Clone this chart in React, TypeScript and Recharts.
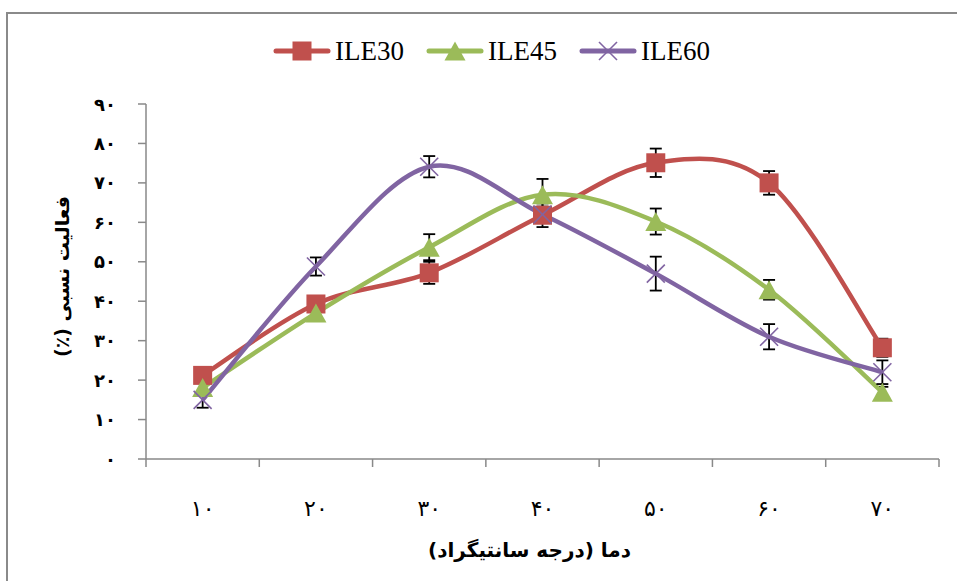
import React from 'react';
import { ComposedChart, Line, XAxis, YAxis, ErrorBar, Legend, Label } from 'recharts';

// ---- data ----
const temps = [10, 20, 30, 40, 50, 60, 70];
const tempLabels = ['۱۰', '۲۰', '۳۰', '۴۰', '۵۰', '۶۰', '۷۰'];
const ile30 = [21.2, 39.3, 47.2, 61.8, 75.1, 70.0, 28.2];
const ile30Err = [1.5, 1.5, 2.8, 3.0, 3.6, 3.0, 2.3];
const ile45 = [18.1, 37.0, 53.7, 67.0, 60.2, 42.9, 16.9];
const ile45Err = [1.5, 1.5, 3.3, 4.0, 3.3, 2.5, 1.4];
const ile60 = [15.0, 48.8, 74.1, 62.0, 47.0, 31.0, 22.0];
const ile60Err = [2.0, 2.3, 2.7, 2.0, 4.3, 3.2, 3.0];
const yTicks = [0, 10, 20, 30, 40, 50, 60, 70, 80, 90];
const yTickLabels = ['۰', '۱۰', '۲۰', '۳۰', '۴۰', '۵۰', '۶۰', '۷۰', '۸۰', '۹۰'];
const seriesNames = ['ILE30', 'ILE45', 'ILE60'];
const seriesKeys = ['ile30', 'ile45', 'ile60'];
const errKeys = ['e30', 'e45', 'e60'];
const seriesColors = ['#C0504D', '#9BBB59', '#8064A2'];
const xTitle = 'دما (درجه سانتیگراد)';
const yTitle = 'فعالیت نسبی (٪)';

const rows = temps.map((t, i) => ({
  t,
  ile30: ile30[i],
  e30: ile30Err[i],
  ile45: ile45[i],
  e45: ile45Err[i],
  ile60: ile60[i],
  e60: ile60Err[i],
}));

const halfStep = (temps[1] - temps[0]) / 2;
const xBounds = [...temps.map((t) => t - halfStep), temps[temps.length - 1] + halfStep];

// ---- layout constants ----
const W = 957;
const H = 581;
const PLOT_LEFT = 146;
const PLOT_RIGHT = 939;
const PLOT_TOP = 104;
const PLOT_BOTTOM = 459;
const HALF_BAND = (PLOT_RIGHT - PLOT_LEFT) / temps.length / 2;
const AXIS_COLOR = '#898989';
const PERSIAN_FONT = '"DejaVu Sans", sans-serif';

// Excel-like smoothed curve (Catmull-Rom / cardinal, tension 0)
function excelCurve(context: any) {
  let pts: number[][] = [];
  return {
    areaStart() {},
    areaEnd() {},
    lineStart() {
      pts = [];
    },
    lineEnd() {
      if (!pts.length) return;
      context.moveTo(pts[0][0], pts[0][1]);
      for (let i = 0; i < pts.length - 1; i++) {
        const p0 = pts[i - 1] || pts[i];
        const p1 = pts[i];
        const p2 = pts[i + 1];
        const p3 = pts[i + 2] || p2;
        context.bezierCurveTo(
          p1[0] + (p2[0] - p0[0]) / 6,
          p1[1] + (p2[1] - p0[1]) / 6,
          p2[0] - (p3[0] - p1[0]) / 6,
          p2[1] - (p3[1] - p1[1]) / 6,
          p2[0],
          p2[1]
        );
      }
    },
    point(x: number, y: number) {
      pts.push([+x, +y]);
    },
  };
}

function Marker({ kind, cx, cy }: { kind: number; cx: number; cy: number }) {
  const color = seriesColors[kind];
  if (cx == null || cy == null || isNaN(cx) || isNaN(cy)) return <g />;
  if (kind === 0) {
    const s = 19;
    return <rect x={cx - s / 2} y={cy - s / 2} width={s} height={s} fill={color} />;
  }
  if (kind === 1) {
    const w = 21;
    const h = 19;
    return (
      <polygon
        points={`${cx},${cy - h / 2} ${cx + w / 2},${cy + h / 2} ${cx - w / 2},${cy + h / 2}`}
        fill={color}
      />
    );
  }
  const r = 9;
  return (
    <g stroke={color} strokeWidth={1.6}>
      <line x1={cx - r} y1={cy - r} x2={cx + r} y2={cy + r} />
      <line x1={cx - r} y1={cy + r} x2={cx + r} y2={cy - r} />
    </g>
  );
}

const renderLegend = () => (
  <div
    style={{
      display: 'flex',
      justifyContent: 'center',
      alignItems: 'center',
      paddingLeft: 26,
      height: 30,
    }}
  >
    {seriesNames.map((n, i) => (
      <div
        key={n}
        style={{ display: 'flex', alignItems: 'center', marginRight: i < seriesNames.length - 1 ? 22 : 0 }}
      >
        <svg width={58} height={26} style={{ display: 'block' }}>
          <line x1={3} y1={13} x2={55} y2={13} stroke={seriesColors[i]} strokeWidth={5} strokeLinecap="round" />
          <Marker kind={i} cx={29} cy={13} />
        </svg>
        <span
          style={{
            fontFamily: '"Liberation Serif", "Times New Roman", serif',
            fontSize: 27,
            color: '#000',
            marginLeft: 4,
            lineHeight: '30px',
          }}
        >
          {n}
        </span>
      </div>
    ))}
  </div>
);

const XTick = (props: any) => {
  const { x, y, index } = props;
  if (index >= tempLabels.length) return <g />;
  return (
    <text
      x={x + HALF_BAND}
      y={y + 39}
      textAnchor="middle"
      dominantBaseline="central"
      fontFamily={PERSIAN_FONT}
      fontSize={22}
      fill="#000"
    >
      {tempLabels[index]}
    </text>
  );
};

const YTick = (props: any) => {
  const { y, index } = props;
  return (
    <text
      x={116}
      y={y}
      textAnchor="end"
      dominantBaseline="central"
      fontFamily={PERSIAN_FONT}
      fontWeight="bold"
      fontSize={18}
      fill="#000"
    >
      {yTickLabels[index]}
    </text>
  );
};

const XTitle = (props: any) => {
  const vb = props.viewBox || {};
  return (
    <text
      x={vb.x + vb.width / 2 - 13}
      y={550}
      textAnchor="middle"
      dominantBaseline="central"
      direction="rtl"
      fontFamily={PERSIAN_FONT}
      fontWeight="bold"
      fontSize={20}
      fill="#000"
    >
      {xTitle}
    </text>
  );
};

const YTitle = (props: any) => {
  const vb = props.viewBox || {};
  const cy = vb.y + vb.height / 2 - 5;
  return (
    <text
      x={62}
      y={cy}
      transform={`rotate(-90, 62, ${cy})`}
      textAnchor="middle"
      dominantBaseline="central"
      direction="rtl"
      fontFamily={PERSIAN_FONT}
      fontWeight="bold"
      fontSize={19}
      fill="#000"
    >
      {yTitle}
    </text>
  );
};

export default function App() {
  return (
    <div style={{ position: 'absolute', left: 0, top: 0, width: W, height: H, background: '#fff', overflow: 'hidden' }}>
      <div
        style={{
          position: 'absolute',
          left: 6,
          top: 12,
          width: W,
          height: H,
          borderLeft: '2px solid #8a8a8a',
          borderTop: '2px solid #8a8a8a',
        }}
      />
      <div style={{ position: 'absolute', left: 0, top: 0 }}>
        <ComposedChart
          width={W}
          height={H}
          data={rows}
          margin={{ top: PLOT_TOP, right: W - PLOT_RIGHT, bottom: 0, left: 0 }}
        >
          <Legend
            content={renderLegend}
            layout="horizontal"
            verticalAlign="middle"
            align="center"
            wrapperStyle={{ top: 36, left: 0, width: W }}
          />
          <XAxis
            dataKey="t"
            type="number"
            domain={[xBounds[0], xBounds[xBounds.length - 1]]}
            ticks={xBounds}
            interval={0}
            height={H - PLOT_BOTTOM}
            tickSize={8}
            tick={<XTick />}
            axisLine={{ stroke: AXIS_COLOR, strokeWidth: 1.5 }}
            tickLine={{ stroke: AXIS_COLOR, strokeWidth: 1.5 }}
          >
            <Label content={<XTitle />} />
          </XAxis>
          <YAxis
            type="number"
            domain={[0, 90]}
            ticks={yTicks}
            interval={0}
            width={PLOT_LEFT}
            tickSize={8}
            tick={<YTick />}
            axisLine={{ stroke: AXIS_COLOR, strokeWidth: 1.5 }}
            tickLine={{ stroke: AXIS_COLOR, strokeWidth: 1.5 }}
          >
            <Label content={<YTitle />} />
          </YAxis>
          {seriesKeys.map((k, i) => (
            <Line
              key={k}
              dataKey={k}
              name={seriesNames[i]}
              type={excelCurve as any}
              stroke={seriesColors[i]}
              strokeWidth={4.5}
              isAnimationActive={false}
              dot={(p: any) => <Marker key={`${k}-${p.index}`} kind={i} cx={p.cx} cy={p.cy} />}
              activeDot={false}
            >
              <ErrorBar dataKey={errKeys[i]} direction="y" width={6} stroke="#000" strokeWidth={1.8} />
            </Line>
          ))}
        </ComposedChart>
      </div>
    </div>
  );
}
